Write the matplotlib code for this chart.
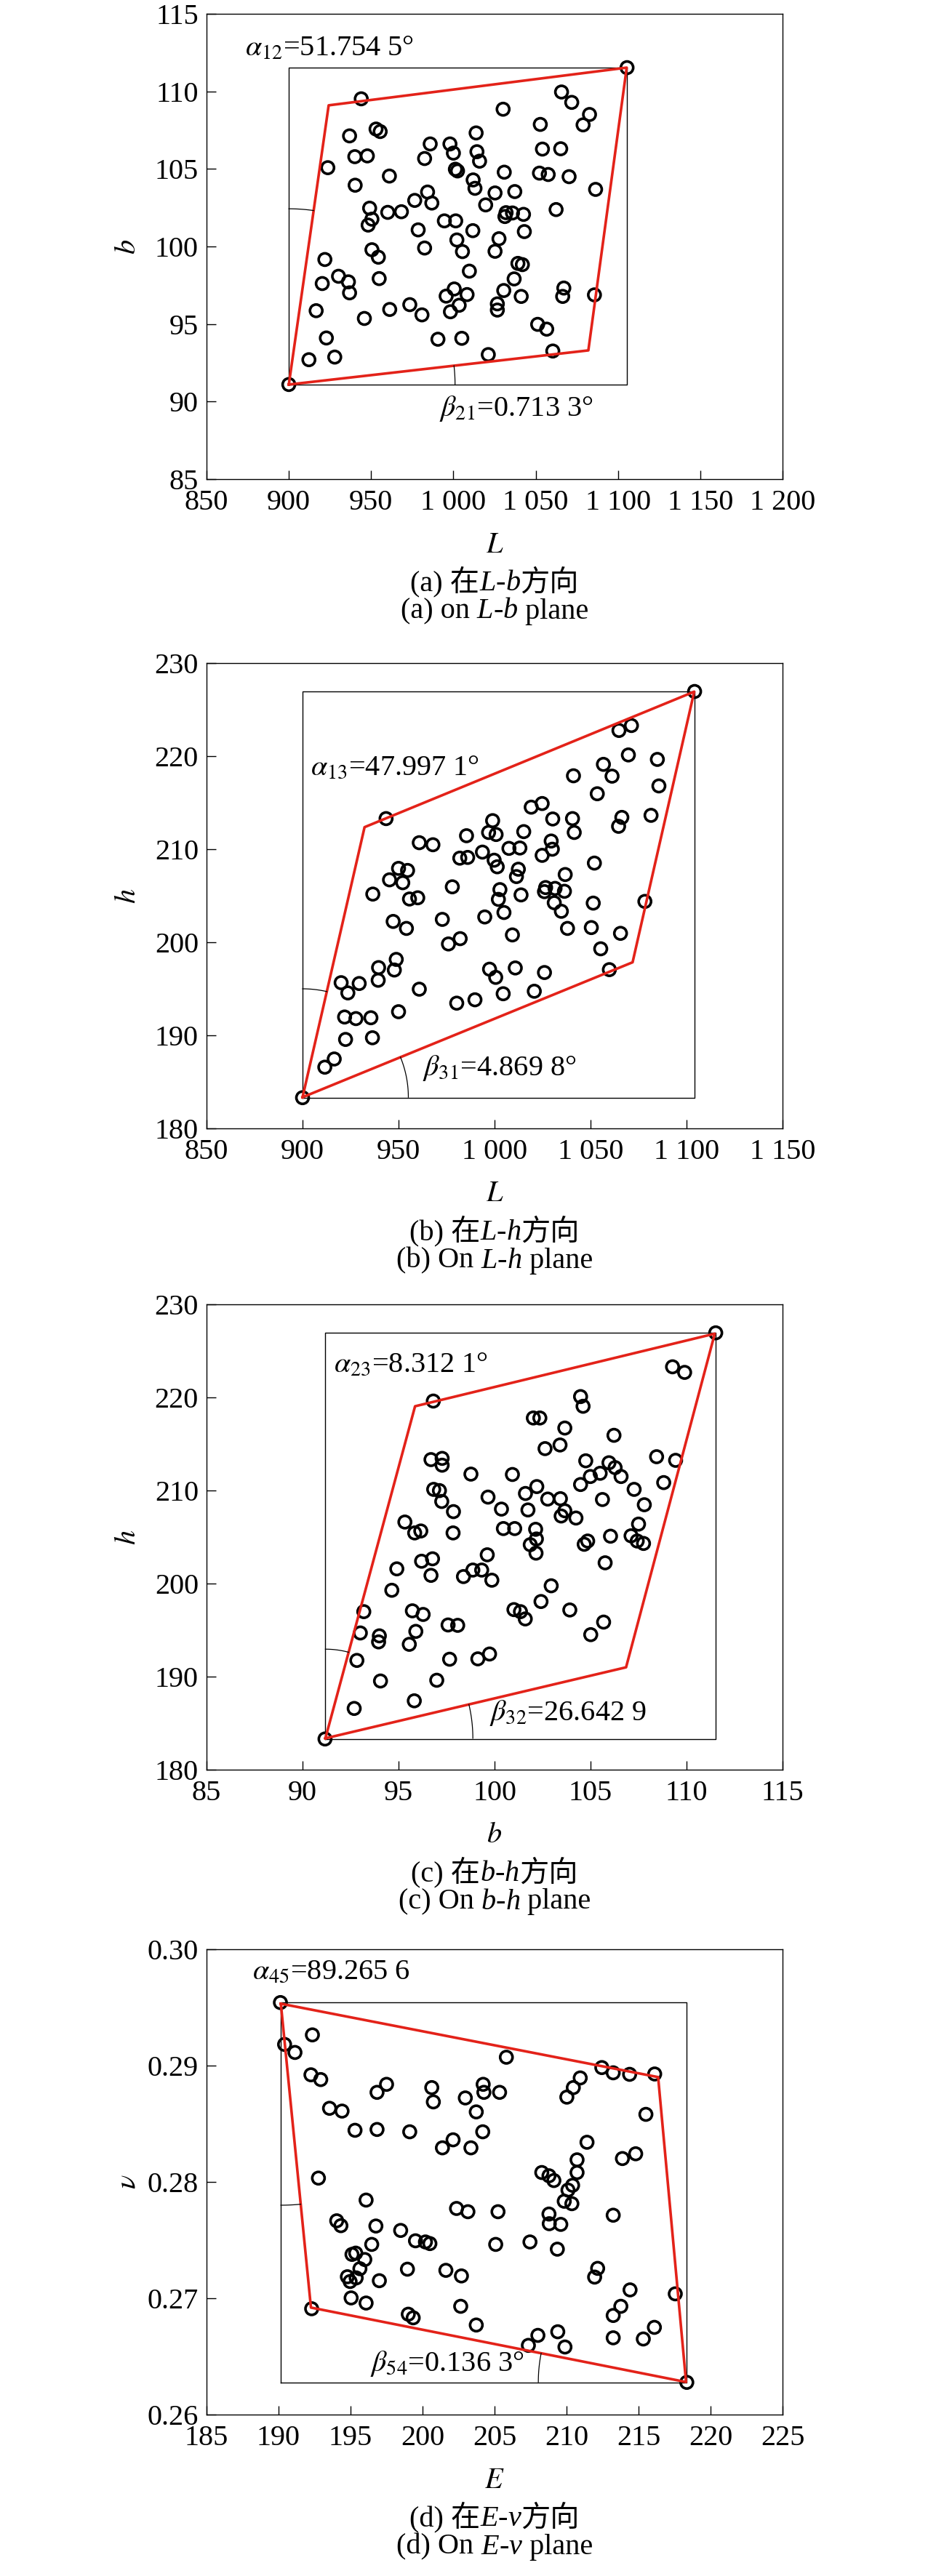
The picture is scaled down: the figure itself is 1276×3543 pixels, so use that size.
import numpy as np
import matplotlib
matplotlib.use("Agg")
import matplotlib.pyplot as plt
from matplotlib.ticker import FuncFormatter
from matplotlib.offsetbox import TextArea, HPacker, AnnotationBbox

plt.rcParams['font.family'] = ['Liberation Serif', 'Noto Sans CJK SC']
plt.rcParams['mathtext.fontset'] = 'stix'

# ---------------- data ----------------
# (a) L-b plane
a_L = [900.0, 1105.5, 944.0, 1065.7, 1071.9, 1030.2, 1082.7, 1078.8, 1052.8, 936.9,
       953.0, 955.5, 1013.8, 985.9, 997.9, 1000.0, 1014.3, 1015.9, 982.5, 940.1,
       947.7, 1054.1, 1065.2, 923.7, 961.1, 1001.2, 1002.5, 1030.9, 1052.3, 1057.6,
       1070.3, 940.3, 1012.0, 1013.1, 1086.4, 984.3, 1025.3, 1037.3, 976.5, 986.9,
       1019.6, 949.1, 960.1, 968.4, 950.5, 948.2, 1032.0, 1035.9, 1042.6, 1031.3,
       1062.4, 994.5, 1001.4, 978.6, 1011.8, 1043.1, 1002.1, 1027.7, 950.5, 954.4,
       982.5, 1005.5, 1025.3, 921.9, 1009.7, 1039.2, 1041.9, 930.2, 920.3, 936.2,
       936.9, 954.9, 1036.9, 1000.5, 995.6, 1008.3, 1030.6, 1041.2, 1067.1, 1066.4,
       1085.7, 916.6, 945.9, 961.3, 973.5, 980.9, 998.2, 1003.5, 1026.7, 1026.7,
       1051.2, 1056.7, 922.8, 990.6, 1005.1, 912.2, 927.9, 1021.2, 1060.4]
a_b = [91.1, 111.53, 109.52, 109.96, 109.29, 108.85, 108.51, 107.84, 107.87, 107.13,
       107.57, 107.41, 107.32, 106.61, 106.61, 106.02, 106.11, 105.50, 105.67, 105.79,
       105.84, 106.28, 106.30, 105.08, 104.54, 104.98, 104.87, 104.79, 104.73, 104.64,
       104.50, 103.95, 104.29, 103.75, 103.68, 103.51, 103.45, 103.54, 102.97, 102.80,
       102.68, 102.47, 102.20, 102.24, 101.76, 101.38, 102.18, 102.16, 102.07, 101.93,
       102.38, 101.65, 101.65, 101.07, 101.02, 100.96, 100.42, 100.50, 99.79, 99.31,
       99.90, 99.67, 99.69, 99.16, 98.41, 98.91, 98.83, 98.08, 97.61, 97.72,
       97.01, 97.93, 97.91, 97.26, 96.80, 96.90, 97.16, 96.78, 97.32, 96.78,
       96.88, 95.86, 95.36, 95.94, 96.25, 95.59, 95.79, 96.21, 96.30, 95.90,
       94.98, 94.67, 94.10, 94.02, 94.08, 92.70, 92.87, 93.03, 93.26]
para_a_L = [900.0, 924.2, 1105.3, 1082.0]
para_a_b = [91.1, 109.1, 111.53, 93.3]

# (b) L-h plane
b_L = [1104.2, 1064.8, 1071.3, 1069.7, 1084.8, 1041.1, 1056.7, 1061.2, 1085.6, 1053.5,
       1019.1, 1024.8, 943.5, 999.0, 1030.3, 1040.6, 1066.3, 1081.5, 1064.6, 996.9,
       1000.8, 1041.5, 985.4, 1015.2, 960.8, 967.9, 1029.5, 1007.5, 1013.2, 1030.1,
       993.7, 981.9, 986.0, 1024.8, 999.8, 1001.4, 1052.0, 950.0, 954.7, 1012.4,
       945.3, 952.2, 1011.4, 1036.8, 978.0, 1002.8, 1026.6, 1031.5, 1036.4, 1026.0,
       936.6, 955.7, 960.0, 1002.0, 1013.8, 1031.1, 1051.4, 1034.8, 1078.3, 947.2,
       954.1, 972.8, 994.9, 1004.9, 1038.0, 1050.4, 1009.3, 976.0, 982.1, 1065.6,
       1055.3, 948.8, 939.6, 947.8, 920.1, 929.5, 939.4, 923.6, 997.4, 1000.6,
       1010.8, 1026.0, 1059.8, 960.8, 980.3, 989.8, 1004.5, 1020.7, 921.9, 927.8,
       935.6, 950.0, 922.4, 936.4, 911.6, 916.5, 900.0]
b_h = [226.95, 222.76, 223.29, 220.13, 219.65, 217.89, 219.12, 217.85, 216.80, 215.96,
       214.52, 214.91, 213.29, 213.07, 213.25, 213.29, 213.42, 213.64, 212.46, 211.80,
       211.58, 211.80, 211.45, 211.89, 210.70, 210.48, 210.88, 210.09, 210.13, 210.00,
       209.69, 209.04, 209.12, 209.34, 208.82, 208.11, 208.51, 207.94, 207.72, 207.85,
       206.71, 206.40, 207.06, 207.28, 205.96, 205.66, 205.88, 205.79, 205.48, 205.44,
       205.18, 204.65, 204.78, 204.61, 205.09, 204.25, 204.21, 203.33, 204.39, 202.24,
       201.49, 202.46, 202.72, 203.20, 201.49, 201.58, 200.79, 199.82, 200.39, 200.96,
       199.30, 198.16, 197.28, 197.02, 195.66, 195.57, 195.92, 194.56, 197.11, 196.23,
       197.24, 196.75, 197.06, 194.96, 193.46, 193.82, 194.47, 194.74, 191.97, 191.80,
       191.89, 192.54, 189.56, 189.74, 186.58, 187.46, 183.3]
para_b_L = [900.0, 932.3, 1104.0, 1071.9]
para_b_h = [183.35, 212.37, 226.93, 197.85]

# (c) b-h plane
c_b = [96.81, 109.27, 109.90, 104.48, 104.61, 102.02, 102.36, 103.66, 103.41, 106.22,
       102.63, 108.44, 109.43, 96.69, 97.27, 97.27, 104.75, 105.96, 106.28, 106.59,
       105.50, 104.99, 98.77, 100.93, 108.81, 104.48, 102.20, 96.83, 97.13, 107.27,
       101.61, 99.66, 102.77, 103.43, 105.62, 97.25, 100.36, 101.74, 107.80, 103.66,
       103.47, 104.24, 97.86, 95.33, 95.84, 96.16, 97.84, 100.46, 101.05, 102.14,
       102.18, 101.86, 102.16, 104.67, 104.85, 106.04, 107.50, 107.11, 107.43, 107.76,
       105.76, 96.20, 96.77, 99.62, 94.91, 96.69, 98.38, 98.87, 99.33, 99.86,
       94.65, 102.95, 102.42, 93.19, 95.72, 96.28, 101.01, 101.35, 101.60, 103.92,
       105.68, 93.01, 94.00, 93.96, 95.90, 95.56, 97.58, 98.08, 105.01, 92.83,
       97.66, 99.13, 99.74, 94.06, 96.99, 92.69, 95.82, 91.17, 111.52]
c_h = [219.61, 223.29, 222.69, 220.09, 219.05, 217.79, 217.79, 216.71, 214.89, 215.93,
       214.50, 213.63, 213.24, 213.32, 213.45, 212.72, 213.19, 212.98, 212.46, 211.50,
       211.85, 211.50, 211.76, 211.72, 210.85, 210.64, 210.42, 210.12, 209.99, 210.12,
       209.68, 209.29, 209.08, 209.12, 209.03, 208.82, 208.00, 207.91, 208.47, 207.82,
       207.26, 207.04, 207.73, 206.61, 205.44, 205.65, 205.44, 205.91, 205.91, 205.83,
       204.79, 204.18, 203.27, 204.22, 204.57, 205.09, 206.39, 205.13, 204.57, 204.31,
       202.23, 202.40, 202.66, 203.09, 201.58, 200.88, 200.75, 201.45, 201.45, 200.36,
       199.28, 199.76, 198.07, 196.98, 197.07, 196.68, 197.20, 196.98, 196.20, 197.16,
       195.86, 194.69, 194.38, 193.73, 194.86, 193.47, 195.55, 195.51, 194.51, 191.74,
       191.87, 191.91, 192.43, 189.53, 189.61, 186.58, 187.40, 183.3, 226.94]
para_c_b = [91.19, 95.86, 111.47, 106.85]
para_c_h = [183.37, 219.05, 226.85, 191.0]

# (d) E-nu plane
d_E = [190.13, 192.35, 190.42, 191.14, 192.25, 192.93, 205.82, 196.84, 197.50, 200.64,
       200.75, 202.97, 204.21, 204.26, 205.35, 203.73, 193.54, 194.41, 210.02, 210.47,
       210.95, 212.45, 213.24, 214.38, 216.12, 215.51, 195.31, 196.84, 199.11, 204.18,
       201.38, 202.12, 203.36, 211.42, 213.88, 214.80, 192.77, 210.73, 210.73, 208.28,
       208.78, 209.12, 210.42, 210.10, 209.84, 210.37, 196.08, 202.36, 203.15, 205.24,
       194.04, 194.33, 196.76, 208.78, 208.80, 209.60, 213.24, 198.48, 199.51, 200.20,
       200.51, 196.47, 205.08, 207.46, 209.36, 195.10, 195.36, 195.99, 195.65, 194.78,
       194.97, 195.39, 197.00, 198.95, 201.62, 202.70, 212.16, 211.95, 214.41, 217.55,
       195.04, 196.08, 192.30, 199.01, 199.35, 202.65, 203.73, 213.77, 213.24, 216.10,
       209.39, 208.01, 207.35, 209.89, 213.24, 215.33, 218.35]
d_nu = [0.29542, 0.29264, 0.29182, 0.29113, 0.28921, 0.28880, 0.29072, 0.28770, 0.28839, 0.28811,
        0.28688, 0.28722, 0.28839, 0.28770, 0.28770, 0.28602, 0.28633, 0.28609, 0.28729, 0.28811,
        0.28894, 0.28983, 0.28938, 0.28925, 0.28928, 0.28581, 0.28444, 0.28451, 0.28431, 0.28431,
        0.28293, 0.28362, 0.28293, 0.28341, 0.28201, 0.28242, 0.28033, 0.28190, 0.28081, 0.28081,
        0.28053, 0.28012, 0.27971, 0.27930, 0.27834, 0.27813, 0.27844, 0.27772, 0.27744, 0.27744,
        0.27666, 0.27624, 0.27621, 0.27724, 0.27641, 0.27635, 0.27714, 0.27583, 0.27494, 0.27484,
        0.27470, 0.27463, 0.27463, 0.27484, 0.27422, 0.27377, 0.27388, 0.27333, 0.27254, 0.27185,
        0.27144, 0.27175, 0.27151, 0.27250, 0.27240, 0.27192, 0.27257, 0.27182, 0.27072, 0.27038,
        0.27003, 0.26959, 0.26910, 0.26863, 0.26832, 0.26931, 0.26770, 0.26931, 0.26852, 0.26750,
        0.26712, 0.26681, 0.26595, 0.26581, 0.26660, 0.26650, 0.26277]
para_d_E = [190.16, 216.36, 218.30, 192.25]
para_d_nu = [0.29532, 0.28901, 0.26280, 0.26920]

# caption pieces: (text, italic?)
cap_a_cn = [("(a) 在", False), ("L", True), ("-", False), ("b", True), ("方向", False)]
cap_a_en = [("(a) on ", False), ("L", True), ("-", False), ("b", True), (" plane", False)]
cap_b_cn = [("(b) 在", False), ("L", True), ("-", False), ("h", True), ("方向", False)]
cap_b_en = [("(b) On ", False), ("L", True), ("-", False), ("h", True), (" plane", False)]
cap_c_cn = [("(c) 在", False), ("b", True), ("-", False), ("h", True), ("方向", False)]
cap_c_en = [("(c) On ", False), ("b", True), ("-", False), ("h", True), (" plane", False)]
cap_d_cn = [("(d) 在", False), ("E", True), ("-", False), ("ν", True), ("方向", False)]
cap_d_en = [("(d) On ", False), ("E", True), ("-", False), ("ν", True), (" plane", False)]

# arc specs: (vertex index, other vertex index, point on arc, reference angle)
panels = [
    dict(x=a_L, y=a_b, px=para_a_L, py=para_a_b, xlim=(850, 1200), ylim=(85, 115),
         xstep=50, ystep=5, yfmt="{:.0f}", xlabel=r"$L$", ylabel=r"$b$",
         alpha=(r"$\alpha_{12}$=51.754 5°", 873.6, 112.3),
         beta=(r"$\beta_{21}$=0.713 3°", 991.4, 89.07),
         arcs=[(0, 1, (900.0, 102.43), 90), (0, 3, (1001.0, 91.1), 0)],
         cap1=cap_a_cn, cap2=cap_a_en, top=19),
    dict(x=b_L, y=b_h, px=para_b_L, py=para_b_h, xlim=(850, 1150), ylim=(180, 230),
         xstep=50, ystep=10, yfmt="{:.0f}", xlabel=r"$L$", ylabel=r"$h$",
         alpha=(r"$\alpha_{13}$=47.997 1°", 904.3, 218.0),
         beta=(r"$\beta_{31}$=4.869 8°", 962.6, 185.7),
         arcs=[(0, 1, (900.0, 195.0), 90), (0, 3, (955.1, 183.35), 0)],
         cap1=cap_b_cn, cap2=cap_b_en, top=912),
    dict(x=c_b, y=c_h, px=para_c_b, py=para_c_h, xlim=(85, 115), ylim=(180, 230),
         xstep=5, ystep=10, yfmt="{:.0f}", xlabel=r"$b$", ylabel=r"$h$",
         alpha=(r"$\alpha_{23}$=8.312 1°", 91.64, 222.8),
         beta=(r"$\beta_{32}$=26.642 9", 99.74, 185.3),
         arcs=[(0, 1, (91.19, 192.95), 90), (0, 3, (98.87, 183.37), 0)],
         cap1=cap_c_cn, cap2=cap_c_en, top=1794),
    dict(x=d_E, y=d_nu, px=para_d_E, py=para_d_nu, xlim=(185, 225), ylim=(0.26, 0.30),
         xstep=5, ystep=0.01, yfmt="{:.2f}", xlabel=r"$E$", ylabel=r"$\nu$",
         alpha=(r"$\alpha_{45}$=89.265 6", 188.18, 0.29744),
         beta=(r"$\beta_{54}$=0.136 3°", 196.34, 0.26376),
         arcs=[(0, 3, (190.16, 0.2780), 270), (2, 3, (208.04, 0.26280), 180)],
         cap1=cap_d_cn, cap2=cap_d_en, top=2681),
]

W, H = 1276, 3543
RED = "#e32219"
FS = 29
FAMILY = ['Liberation Serif', 'Noto Sans CJK SC']

fig = plt.figure(figsize=(W / 100, H / 100), dpi=100)


def thousands(v, pos):
    return f"{v:,.0f}".replace(",", " ")


def draw_arc(ax, vertex, other, cross, ref_deg):
    tr = ax.transData
    v = tr.transform(vertex)
    o = tr.transform(other)
    c = tr.transform(cross)
    r = np.hypot(*(c - v))
    edge = np.degrees(np.arctan2(o[1] - v[1], o[0] - v[0])) % 360
    t1, t2 = sorted([ref_deg, edge])
    t = np.radians(np.linspace(t1, t2, 40))
    pts = v + r * np.column_stack([np.cos(t), np.sin(t)])
    d = tr.inverted().transform(pts)
    ax.plot(d[:, 0], d[:, 1], color="k", lw=0.9, zorder=4)


def caption(pieces, x, y):
    boxes = [TextArea(t, textprops=dict(fontsize=FS, family=FAMILY,
                                        style="italic" if it else "normal"))
             for t, it in pieces]
    pack = HPacker(children=boxes, align="baseline", pad=0, sep=0)
    ab = AnnotationBbox(pack, (x, y), xycoords="figure fraction",
                        box_alignment=(0.5, 0.5), frameon=False, pad=0)
    fig.add_artist(ab)


left, width, height = 284, 792, 640
for p in panels:
    top = p["top"]
    ax = fig.add_axes([left / W, 1 - (top + height) / H, width / W, height / H])
    ax.set_xlim(*p["xlim"])
    ax.set_ylim(*p["ylim"])

    # bounding box of the samples
    x0, x1 = min(p["x"]), max(p["x"])
    y0, y1 = min(p["y"]), max(p["y"])
    ax.plot([x0, x1, x1, x0, x0], [y0, y0, y1, y1, y0], color="k", lw=1.0, zorder=1)

    ax.scatter(p["x"], p["y"], s=150, facecolors="none", edgecolors="k",
               linewidths=2.6, zorder=2)

    px = list(p["px"]) + [p["px"][0]]
    py = list(p["py"]) + [p["py"][0]]
    ax.plot(px, py, color=RED, lw=2.6, zorder=3)

    for vi, oi, cross, ref in p["arcs"]:
        draw_arc(ax, (p["px"][vi], p["py"][vi]), (p["px"][oi], p["py"][oi]), cross, ref)

    for key in ("alpha", "beta"):
        txt, tx, ty = p[key]
        ax.text(tx, ty, txt, fontsize=29, ha="left", va="baseline", zorder=5)

    xt = np.arange(p["xlim"][0], p["xlim"][1] + p["xstep"] / 2, p["xstep"])
    yt = np.arange(p["ylim"][0], p["ylim"][1] + p["ystep"] / 2, p["ystep"])
    ax.set_xticks(xt)
    ax.set_yticks(yt)
    ax.xaxis.set_major_formatter(FuncFormatter(thousands))
    fmt = p["yfmt"]
    ax.yaxis.set_major_formatter(FuncFormatter(lambda v, pos, f=fmt: f.format(v)))
    ax.tick_params(direction="in", length=9, width=1.0, labelsize=FS, top=False, right=False)
    ax.tick_params(axis="x", pad=10)
    ax.tick_params(axis="y", pad=8)
    for s in ax.spines.values():
        s.set_linewidth(1.0)

    ax.set_xlabel(p["xlabel"], fontsize=FS)
    ax.xaxis.label.set_va("center")
    ax.xaxis.set_label_coords(0.5, -91 / height)
    ax.set_ylabel(p["ylabel"], fontsize=FS)
    ax.yaxis.label.set_va("center")
    ax.yaxis.set_label_coords((176 - left) / width, 0.5)

    cx = (left + width / 2) / W
    caption(p["cap1"], cx, 1 - (top + height + 141) / H)
    caption(p["cap2"], cx, 1 - (top + height + 182) / H)

fig.savefig("out.png", dpi=100)
